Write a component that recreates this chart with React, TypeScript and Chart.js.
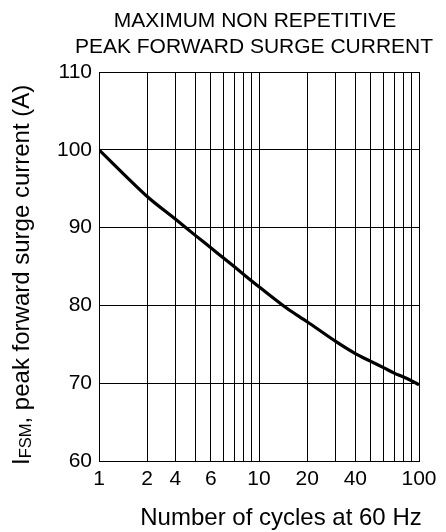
import React, { useEffect, useRef } from "react";
import { Chart, registerables } from "chart.js";

Chart.register(...registerables);

const FONT = '"Liberation Sans", Arial, Helvetica, sans-serif';

// Data
const cycles = [1, 2, 3, 4, 5, 6, 8, 10, 15, 20, 30, 40, 50, 60, 70, 80, 90, 100];
const surgeCurrent = [100, 94, 91.1, 89.0, 87.4, 86.1, 84.0, 82.4, 79.6, 77.9, 75.4, 73.8, 72.8, 72.0, 71.3, 70.8, 70.3, 69.8];

// Axis ticks / labels
const xGridValues = [1, 2, 3, 4, 5, 6, 7, 8, 9, 10, 20, 30, 40, 50, 60, 70, 80, 90, 100];
const xLabelValues = [1, 2, 3, 5, 10, 20, 40, 100];
const xLabelTexts = ["1", "2", "4", "6", "10", "20", "40", "100"];
const yMin = 60;
const yMax = 110;
const yStep = 10;

const titleLines = ["MAXIMUM NON REPETITIVE", "PEAK FORWARD SURGE CURRENT"];
const xTitle = "Number of cycles at 60 Hz";
const yTitleMain = "I";
const yTitleSub = "FSM";
const yTitleRest = ", peak forward surge current (A)";

const textPlugin = {
  id: "customTexts",
  afterDraw(chart: any) {
    const ctx = chart.ctx as CanvasRenderingContext2D;
    ctx.save();
    ctx.fillStyle = "#000";
    ctx.textBaseline = "alphabetic";
    ctx.textAlign = "center";
    ctx.font = `21px ${FONT}`;
    ctx.fillText(titleLines[0], 255, 26.5);
    ctx.fillText(titleLines[1], 254, 53);
    ctx.font = `24px ${FONT}`;
    ctx.fillText(xTitle, 281, 525);

    ctx.translate(29, 465);
    ctx.rotate(-Math.PI / 2);
    ctx.textAlign = "left";
    let x = 0;
    ctx.font = `24px ${FONT}`;
    ctx.fillText(yTitleMain, x, 0);
    x += ctx.measureText(yTitleMain).width;
    ctx.font = `16.5px ${FONT}`;
    ctx.fillText(yTitleSub, x, 2);
    x += ctx.measureText(yTitleSub).width;
    ctx.font = `24px ${FONT}`;
    ctx.fillText(yTitleRest, x, 0);
    ctx.restore();
  },
};

export default function App() {
  const canvasRef = useRef<HTMLCanvasElement | null>(null);

  useEffect(() => {
    if (!canvasRef.current) return;
    const chart = new Chart(canvasRef.current, {
      type: "line",
      data: {
        datasets: [
          {
            data: cycles.map((c, i) => ({ x: c, y: surgeCurrent[i] })),
            borderColor: "#000",
            borderWidth: 3.2,
            pointRadius: 0,
            fill: false,
            tension: 0.3,
          },
        ],
      },
      options: {
        animation: false,
        responsive: false,
        layout: { padding: { left: 39, right: 27, top: 72, bottom: 31 } },
        plugins: {
          legend: { display: false },
          tooltip: { enabled: false },
          title: { display: false },
        },
        scales: {
          x: {
            type: "logarithmic",
            min: 1,
            max: 100,
            afterBuildTicks: (scale: any) => {
              scale.ticks = xGridValues.map((v) => ({ value: v }));
            },
            afterFit: (scale: any) => {
              scale.height = 40;
            },
            ticks: {
              autoSkip: false,
              maxRotation: 0,
              minRotation: 0,
              padding: 6,
              color: "#000",
              font: { family: FONT, size: 21 },
              callback: (value: any) => {
                const i = xLabelValues.indexOf(Number(value));
                return i >= 0 ? xLabelTexts[i] : "";
              },
            },
            grid: { color: "#000", lineWidth: 1, drawTicks: false },
            border: { color: "#000", width: 1 },
          },
          y: {
            type: "linear",
            min: yMin,
            max: yMax,
            afterFit: (scale: any) => {
              scale.width = 60;
            },
            ticks: {
              stepSize: yStep,
              padding: 7,
              color: "#000",
              font: { family: FONT, size: 21 },
            },
            grid: { color: "#000", lineWidth: 1, drawTicks: false },
            border: { color: "#000", width: 1 },
          },
        },
      } as any,
      plugins: [textPlugin],
    });
    return () => chart.destroy();
  }, []);

  return (
    <div style={{ position: "absolute", left: 0, top: 0, width: 446, height: 532, background: "#fff" }}>
      <canvas ref={canvasRef} width={446} height={532} style={{ width: 446, height: 532, display: "block" }} />
    </div>
  );
}
